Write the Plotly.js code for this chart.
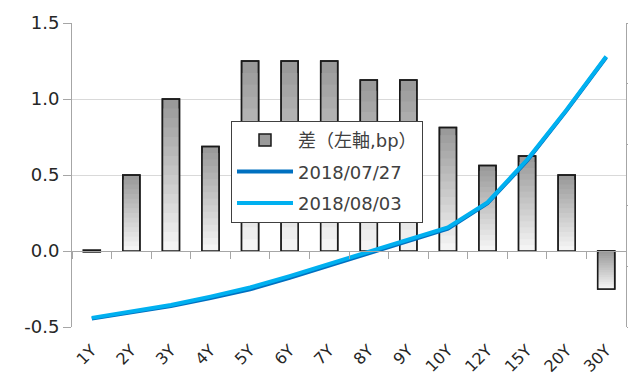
<!DOCTYPE html>
<html><head><meta charset="utf-8">
<script src="https://cdn.plot.ly/plotly-3.0.1.min.js"></script>
<style>html,body{margin:0;padding:0;background:#fff}#c{width:628px;height:376px}</style>
</head><body><div id="c"></div>
<script>
const categories = ['1Y','2Y','3Y','4Y','5Y','6Y','7Y','8Y','9Y','10Y','12Y','15Y','20Y','30Y'];
const diffBp = [0, 0.5, 1.0, 0.6875, 1.25, 1.25, 1.25, 1.125, 1.125, 0.8125, 0.5625, 0.625, 0.5, -0.25];
const y20180727 = [-0.445, -0.405, -0.362, -0.31, -0.252, -0.177, -0.097, -0.012, 0.064, 0.147, 0.314, 0.594, 0.925, 1.275];
const y20180803 = [-0.44, -0.40, -0.355, -0.30, -0.24, -0.165, -0.085, 0.0, 0.075, 0.155, 0.32, 0.60, 0.93, 1.28];
const yTickVals = [-0.5, 0, 0.5, 1.0, 1.5];
const yTickText = ['-0.5', '0.0', '0.5', '1.0', '1.5'];
const legendNames = ['差（左軸,bp）', '2018/07/27', '2018/08/03'];

const FONT = 'DejaVu Sans, "Noto Sans CJK JP", sans-serif';
const N = 16;
const dark = [154,154,154], light = [244,244,244];
const bottoms = diffBp.map(v => Math.min(0, v));
const heights = diffBp.map(v => Math.abs(v));
const traces = [];
for (let k = 0; k < N; k++) {
  const t = k / (N - 1);
  const c = dark.map((d, i) => Math.round(d + (light[i] - d) * t));
  const f = 1 - k / N;
  traces.push({
    type: 'bar', x: categories, y: heights.map(h => h * f), base: bottoms,
    marker: {color: `rgb(${c.join(',')})`, line: {width: k === 0 ? 1.5 : 0, color: '#1a1a1a'}},
    name: legendNames[0], showlegend: k === 0, legendgroup: 'g0',
    hoverinfo: 'skip', xaxis: 'x', yaxis: 'y'
  });
}
// outline
traces.push({
  type: 'bar', x: categories, y: heights.map(h => Math.max(h, 0.012)), base: bottoms.map((b, i) => heights[i] < 0.012 ? -0.006 : b),
  marker: {color: 'rgba(0,0,0,0)', line: {width: 1.6, color: '#1a1a1a'}},
  showlegend: false, hoverinfo: 'skip', xaxis: 'x', yaxis: 'y'
});
// dummy for zero-line ticks axis
traces.push({type: 'scatter', mode: 'markers', x: categories, y: categories.map(() => null), xaxis: 'x2', yaxis: 'y', showlegend: false, hoverinfo: 'skip'});
traces.push({type: 'scatter', mode: 'lines', x: categories, y: y20180727, name: legendNames[1], legendgroup: 'g1',
  line: {color: '#0070c0', width: 4}, xaxis: 'x', yaxis: 'y2'});
traces.push({type: 'scatter', mode: 'lines', x: categories, y: y20180803, name: legendNames[2], legendgroup: 'g2',
  line: {color: '#00b0f0', width: 4}, xaxis: 'x', yaxis: 'y2'});

const layout = {
  width: 628, height: 376,
  margin: {l: 72, r: 2, t: 23, b: 49},
  paper_bgcolor: '#fff', plot_bgcolor: '#fff',
  font: {family: FONT, color: '#333'},
  barmode: 'overlay', bargap: 0.57,
  showlegend: true,
  legend: {x: 0.287, y: 0.678, xanchor: 'left', yanchor: 'top', bgcolor: '#fff', bordercolor: '#404040', borderwidth: 1,
    font: {size: 18, family: FONT, color: '#404040'}, tracegroupgap: 5, itemwidth: 56, traceorder: 'grouped'},
  xaxis: {type: 'category', categoryarray: categories, categoryorder: 'array', range: [-0.5, 13.5],
    showline: false, ticks: '', showgrid: false, zeroline: false, tickangle: -45, ticklabelstandoff: 10,
    tickfont: {size: 16, family: FONT, color: '#262626'}},
  xaxis2: {type: 'category', categoryarray: categories, categoryorder: 'array', range: [-0.5, 13.5],
    overlaying: 'x', anchor: 'free', position: 0.25, showline: true, linecolor: '#a6a6a6', linewidth: 1,
    ticks: 'outside', tickson: 'boundaries', ticklen: 7, tickcolor: '#a6a6a6', showticklabels: false, showgrid: false, zeroline: false},
  yaxis: {range: [-0.5, 1.5], tickmode: 'array', tickvals: yTickVals, ticktext: yTickText, showline: true, linecolor: '#a6a6a6',
    ticks: 'outside', ticklen: 8, tickcolor: '#a6a6a6', gridcolor: '#d9d9d9', zeroline: true, zerolinecolor: '#a6a6a6',
    tickfont: {size: 18, family: FONT, color: '#262626'}},
  yaxis2: {overlaying: 'y', side: 'right', range: [-0.5, 1.5], tick0: -0.5, dtick: 0.4, showline: true, linecolor: '#a6a6a6',
    ticks: 'outside', ticklen: 5, tickcolor: '#a6a6a6', showticklabels: false, showgrid: false, zeroline: false}
};
Plotly.newPlot('c', traces, layout, {displayModeBar: false, staticPlot: true});
</script></body></html>
